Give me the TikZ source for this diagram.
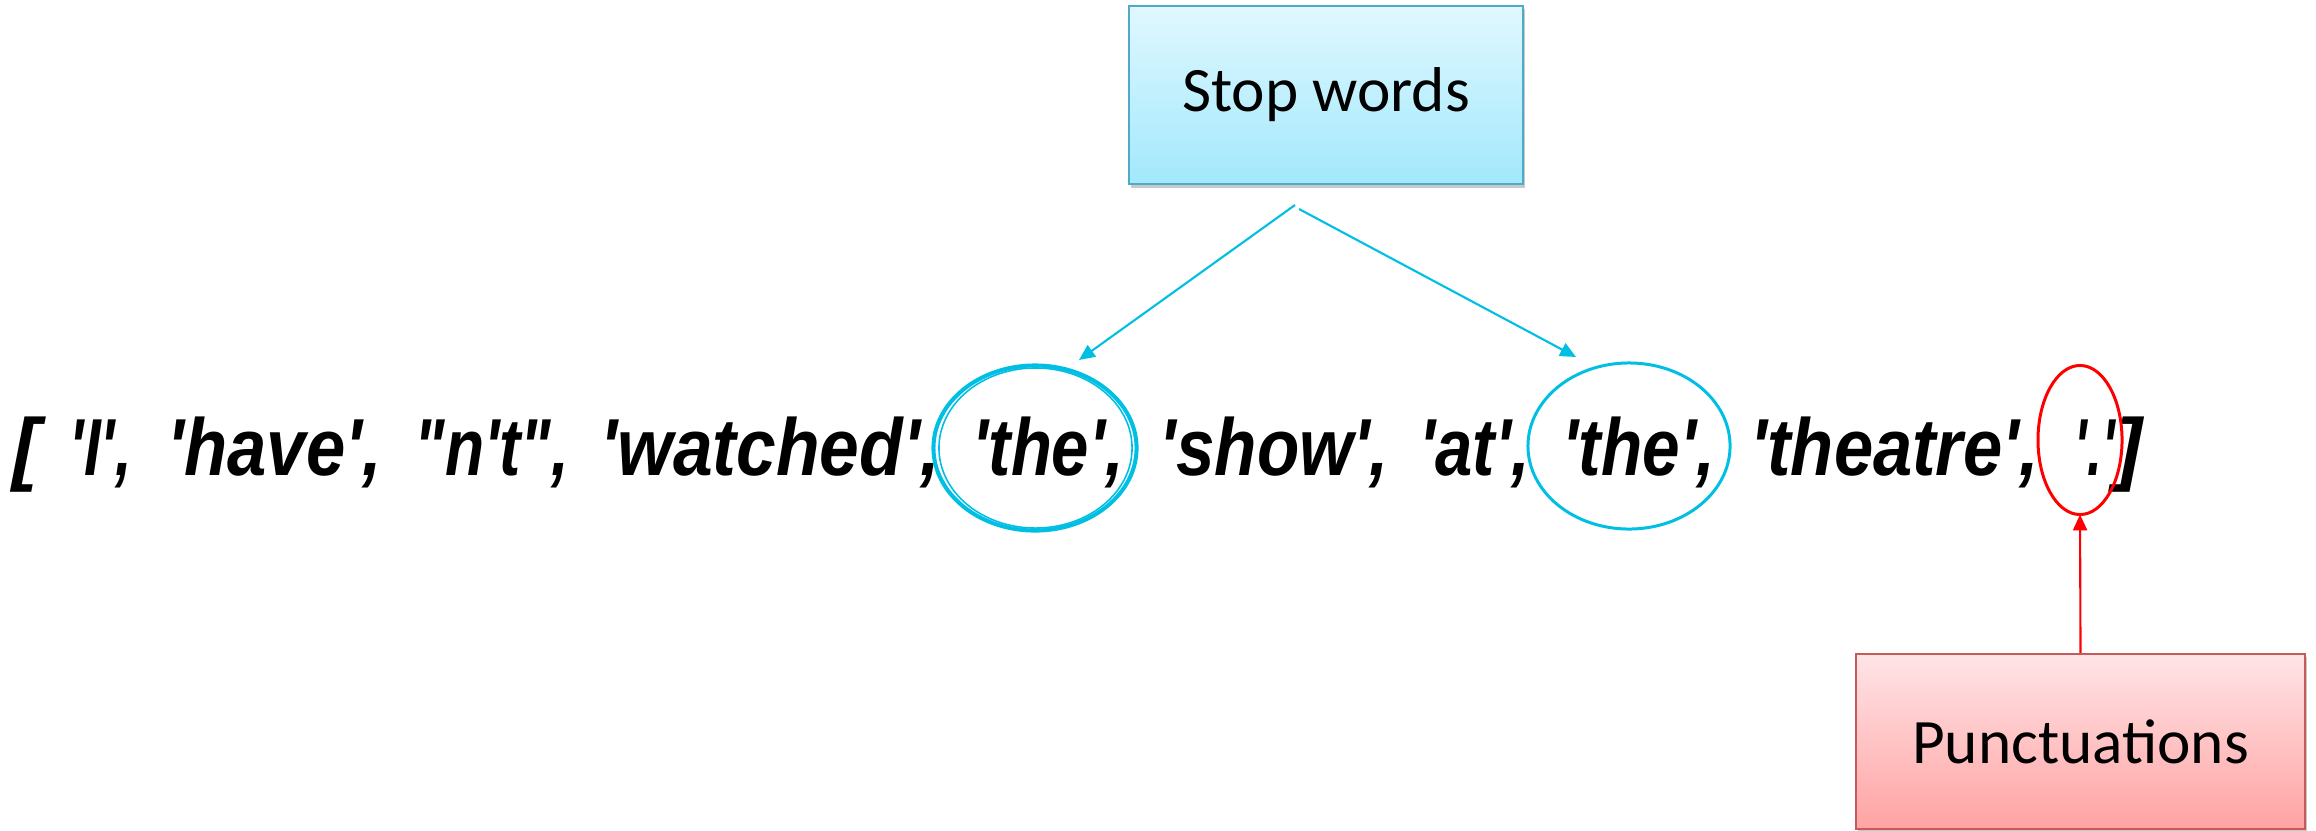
\documentclass[tikz,border=0pt]{standalone}
\usepackage{fontspec}
\usetikzlibrary{shapes.geometric,arrows.meta,shadows}
\newfontfamily\labelfont{Carlito}
\newfontfamily\tokfont[Ligatures=TeXOff]{Liberation Sans}
\definecolor{stopcyan}{HTML}{00BFE3}
\definecolor{stoptop}{HTML}{E0F8FF}
\definecolor{stopbot}{HTML}{A2E8FC}
\definecolor{stopedge}{HTML}{4FAAC8}
\definecolor{puntop}{HTML}{FFE4E6}
\definecolor{punbot}{HTML}{FFA3A3}
\definecolor{punedge}{HTML}{C45A5A}
% set a token squeezed or stretched horizontally to a given width
\newlength\tokwd
\newcommand\fitto[2]{\settowidth\tokwd{#2}%
  \pgfmathsetmacro\fitfac{#1/\the\tokwd}%
  \scalebox{\fitfac}[1]{#2}}
\tikzset{
  labelbox/.style={draw, line width=0.6pt, inner sep=0pt,
    font=\labelfont\fontsize{18}{22}\selectfont,
    drop shadow={shadow xshift=0.6pt, shadow yshift=-1pt, opacity=0.3, fill=black!70}},
  stopbox/.style={labelbox, draw=stopedge, top color=stoptop, bottom color=stopbot,
    minimum width=3.94cm, minimum height=1.78cm},
  punctbox/.style={labelbox, draw=punedge, top color=puntop, bottom color=punbot,
    minimum width=4.49cm, minimum height=1.75cm},
  tok/.style={anchor=base west, inner sep=0pt,
    font=\tokfont\bfseries\itshape\fontsize{23}{27}\selectfont},
  ring/.style={ellipse, inner sep=0pt, outer sep=0pt},
  stoparrow/.style={draw=stopcyan, line width=0.6pt,
    -{Triangle[length=4.5pt,width=4pt]}},
  punctarrow/.style={draw=red, line width=0.6pt,
    -{Triangle[length=4.5pt,width=4pt]}},
}
\begin{document}
\begin{tikzpicture}[x=0.01cm, y=-0.01cm]
\useasboundingbox (0,0) rectangle (2316,830);

% label boxes
\node[stopbox] (stop) at (1326,95) {Stop words};
\node[punctbox] (punct) at (2080.5,741.5) {Punctuations};

% the token list
\node[tok] (k0)  at (12,475)   {[};
\node[tok] (k1)  at (69,475)   {\fitto{0.62cm}{'I',}};
\node[tok] (k2)  at (167,475)  {\fitto{2.14cm}{'have',}};
\node[tok] (k3)  at (414,475)  {\fitto{1.54cm}{"n't",}};
\node[tok] (k4)  at (600,475)  {\fitto{3.39cm}{'watched',}};
\node[tok] (k5)  at (972,475)  {\fitto{1.51cm}{'the',}};
\node[tok] (k6)  at (1159,475) {\fitto{2.29cm}{'show',}};
\node[tok] (k7)  at (1419,475) {\fitto{1.10cm}{'at',}};
\node[tok] (k8)  at (1562,475) {\fitto{1.52cm}{'the',}};
\node[tok] (k9)  at (1750,475) {\fitto{2.88cm}{'theatre',}};
\node[tok] (k10) at (2074,475) {\fitto{0.40cm}{'.'}};
\node[tok] (k11) at (2115,475) {]};

% rings round the stop words and the punctuation
\node[ring, draw=stopcyan, line width=1.15pt, minimum width=2.03cm, minimum height=1.65cm] (e1) at (1035,448) {};
\node[ring, draw=stopcyan, line width=0.45pt, minimum width=1.93cm, minimum height=1.60cm] (e1b) at (1035.5,448) {};
\node[ring, draw=stopcyan, line width=0.85pt, minimum width=2.02cm, minimum height=1.66cm] (e2) at (1629,446) {};
\node[ring, draw=red, line width=0.85pt, minimum width=0.84cm, minimum height=1.49cm] (pe) at (2080,440) {};

% connectors
\coordinate (s1) at (1295,205);
\coordinate (h1) at (1079,360);
\coordinate (s2) at (1299,209);
\coordinate (h2) at (1576,357);
\draw[stoparrow] (s1) -- (h1);
\draw[stoparrow] (s2) -- (h2);
\draw[punctarrow] (punct.north) -- (pe.south);
\end{tikzpicture}
\end{document}
